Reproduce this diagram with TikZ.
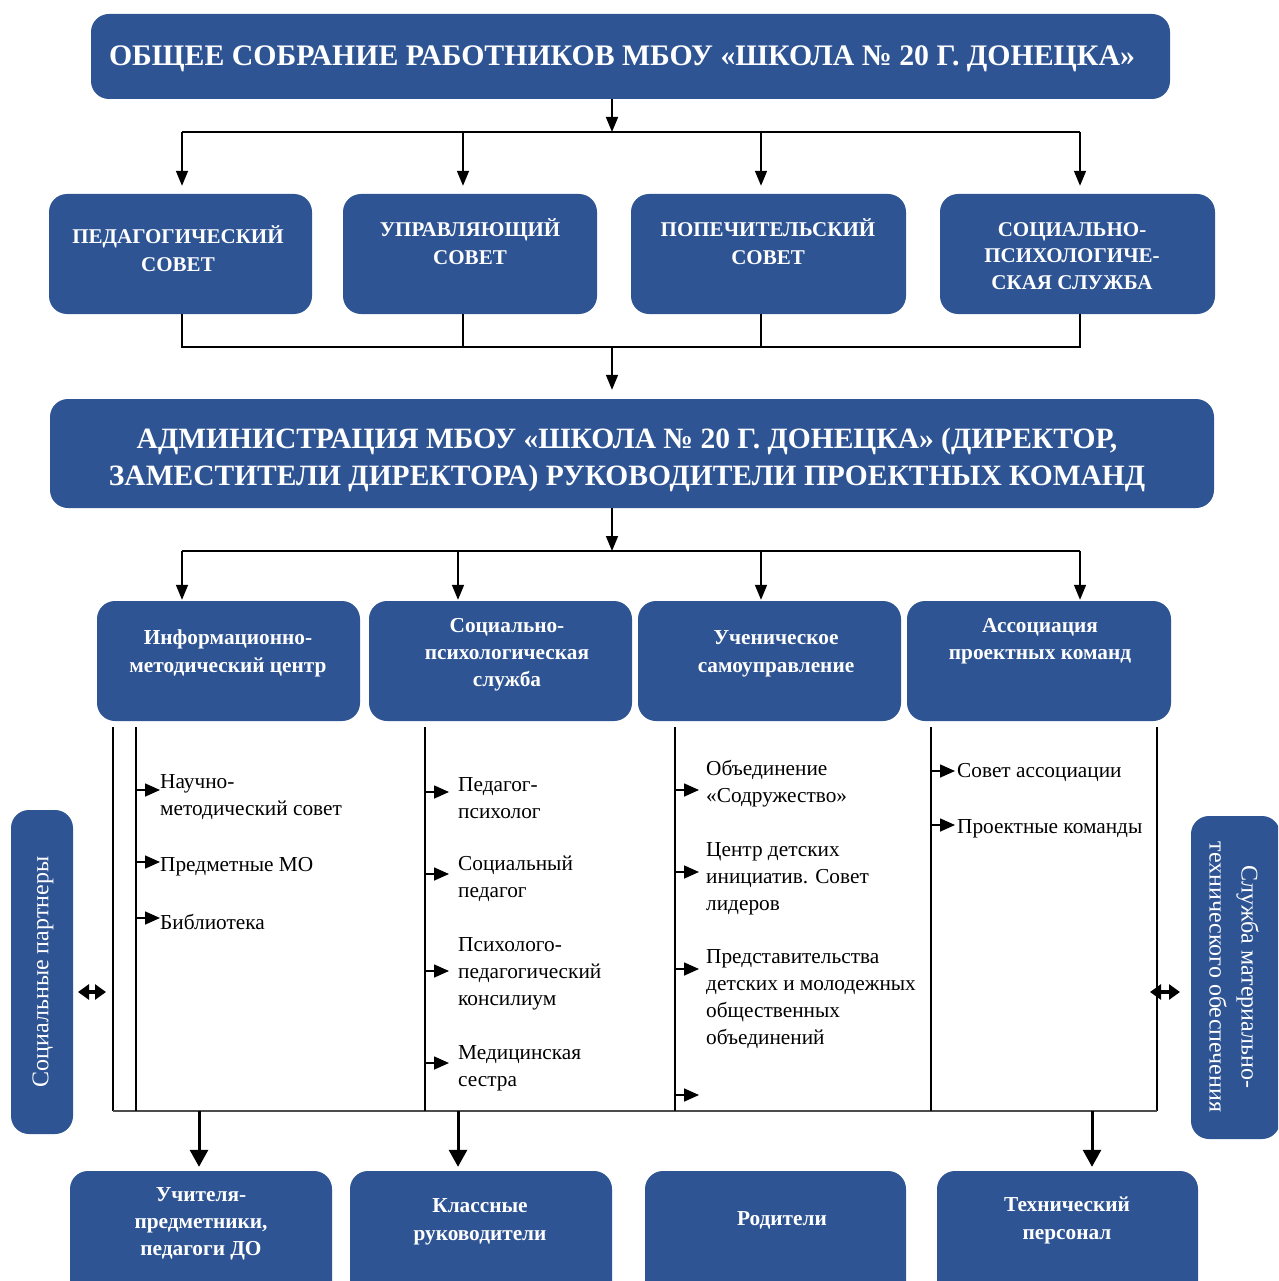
\documentclass[tikz,border=0pt]{standalone}
\usepackage{fontspec}
\setmainfont{Liberation Serif}
\usetikzlibrary{positioning}
\usetikzlibrary{arrows.meta}
\definecolor{boxblue}{RGB}{46,84,148}
\tikzset{
  bbox/.style={fill=boxblue, rounded corners=18pt, inner sep=0pt},
  btxt/.style={text=white, align=center, inner sep=0pt, font=\bfseries\fontsize{21}{28}\selectfont},
  stxt/.style={text=white, align=center, inner sep=0pt, yshift=-2.5pt, font=\bfseries\fontsize{21.3}{27}\selectfont},
  itxt/.style={anchor=west, align=left, inner sep=0pt, yshift=-2.5pt, font=\fontsize{21.3}{27}\selectfont},
  arr/.style={line width=1.6pt, -{Triangle[width=12pt,length=15pt]}},
  iarr/.style={line width=1.6pt, -{Triangle[width=13pt,length=15pt]}},
  barr/.style={line width=3pt, -{Triangle[width=18pt,length=17pt]}},
  darr/.style={line width=4.5pt, {Triangle[width=15pt,length=11pt]}-{Triangle[width=15pt,length=11pt]}},
  cline/.style={line width=1.6pt}
}
\begin{document}
\begin{tikzpicture}[x=1pt,y=-1pt]
	\useasboundingbox (0,0) rectangle (1278,1281); \clip (0,0) rectangle (1278,1281);
	\node [bbox, minimum width=1079pt, minimum height=85pt] (obsh) at (630.5,56.5) {};
	\node [btxt, font=\bfseries\fontsize{29.8}{34}\selectfont] (obshT) at (622,59) {ОБЩЕЕ СОБРАНИЕ РАБОТНИКОВ МБОУ «ШКОЛА № 20 Г. ДОНЕЦКА»};
	\node [bbox, minimum width=263pt, minimum height=120pt] (pedsov) at (180.5,254) {}; \node [btxt] (pedsovT) at (178,249) {ПЕДАГОГИЧЕСКИЙ\\СОВЕТ};
	\node [bbox, minimum width=254pt, minimum height=120pt] (upsov) at (470,254) {}; \node [btxt] (upsovT) at (470,242) {УПРАВЛЯЮЩИЙ\\СОВЕТ};
	\node [bbox, minimum width=275pt, minimum height=120pt] (popsov) at (768.5,254) {}; \node [btxt] (popsovT) at (768,242) {ПОПЕЧИТЕЛЬСКИЙ\\СОВЕТ};
	\node [bbox, minimum width=275pt, minimum height=120pt] (spsl) at (1077.5,254) {}; \node [btxt, font=\bfseries\fontsize{21}{26.5}\selectfont] (spslT) at (1072,256) {СОЦИАЛЬНО-\\ПСИХОЛОГИЧЕ-\\СКАЯ СЛУЖБА};
	\coordinate (j0) at (612,132); \coordinate (j1) at (182,132); \coordinate (j2) at (463,132); \coordinate (j3) at (761,132); \coordinate (j4) at (1080,132);
	\draw [arr] (obsh.south -| j0) -- (j0); \draw [cline] (j1)--(j4);
	\draw [arr, shorten >=8pt] (j1) -- (j1 |- pedsov.north); \draw [arr, shorten >=8pt] (j2) -- (j2 |- upsov.north);
	\draw [arr, shorten >=8pt] (j3) -- (j3 |- popsov.north); \draw [arr, shorten >=8pt] (j4) -- (j4 |- spsl.north);
	\coordinate (k0) at (612,347); \coordinate (k1) at (182,347); \coordinate (k2) at (463,347); \coordinate (k3) at (761,347); \coordinate (k4) at (1080,347);
	\draw [cline] (j1 |- pedsov.south)--(k1)--(k4)--(j4 |- spsl.south); \draw [cline] (j2 |- upsov.south)--(k2); \draw [cline] (j3 |- popsov.south)--(k3);
	\node [bbox, minimum width=1164pt, minimum height=109pt] (adm) at (632,453.5) {};
	\node [btxt, font=\bfseries\fontsize{29.5}{37}\selectfont] (admT) at (627,460) {АДМИНИСТРАЦИЯ МБОУ «ШКОЛА № 20 Г. ДОНЕЦКА» (ДИРЕКТОР,\\ЗАМЕСТИТЕЛИ ДИРЕКТОРА) РУКОВОДИТЕЛИ ПРОЕКТНЫХ КОМАНД};
	\draw [arr, shorten >=9pt] (k0) -- (k0 |- adm.north);
	\node [bbox, minimum width=263pt, minimum height=120pt] (imc) at (228.5,661) {}; \node [stxt, font=\bfseries\fontsize{21.3}{28}\selectfont] (imcT) at (228,651) {Информационно-\\методический центр};
	\node [bbox, minimum width=263pt, minimum height=120pt] (sps) at (500.5,661) {}; \node [stxt] (spsT) at (507,652) {Социально-\\психологическая\\служба};
	\node [bbox, minimum width=263pt, minimum height=120pt] (usu) at (769.5,661) {}; \node [stxt, font=\bfseries\fontsize{21.3}{28}\selectfont] (usuT) at (776,651) {Ученическое\\самоуправление};
	\node [bbox, minimum width=264pt, minimum height=120pt] (apk) at (1039,661) {}; \node [stxt] (apkT) at (1040,638.5) {Ассоциация\\проектных команд};
	\coordinate (m0) at (612,551); \coordinate (m1) at (182,551); \coordinate (m2) at (458,551); \coordinate (m3) at (761,551); \coordinate (m4) at (1080,551);
	\draw [arr] (adm.south -| m0) -- (m0); \draw [cline] (m1)--(m4);
	\draw [arr, shorten >=1pt] (m1) -- (m1 |- imc.north); \draw [arr, shorten >=1pt] (m2) -- (m2 |- sps.north);
	\draw [arr, shorten >=1pt] (m3) -- (m3 |- usu.north); \draw [arr, shorten >=1pt] (m4) -- (m4 |- apk.north);
	\coordinate (fl) at (113,727); \coordinate (fr) at (1157,727); \coordinate (fbl) at (113,1111); \coordinate (fbr) at (1157,1111);
	\draw [line width=1.3pt] (fl)--(fbl); \draw [line width=1.3pt] (fr)--(fbr); \draw [line width=2.6pt, black!70] (fbl)--(fbr);
	\coordinate (v1) at (136,727); \coordinate (v2) at (425,727); \coordinate (v3) at (675,727); \coordinate (v4) at (931,727);
	\draw [line width=2.2pt] (v1)--(v1 |- fbl); \draw [line width=2.2pt] (v2)--(v2 |- fbl); \draw [line width=2.2pt] (v3)--(v3 |- fbl); \draw [line width=2.2pt] (v4)--(v4 |- fbl);
	\node [itxt] (nms) at (160,794.5) {Научно-\\методический совет}; \draw [iarr] (136,790) -- ++(24,0);
	\node [itxt] (pmo) at (160,864) {Предметные МО}; \draw [iarr] (136,862) -- ++(24,0);
	\node [itxt] (bib) at (160,919) {Библиотека}; \draw [iarr] (136,918) -- ++(24,0);
	\node [itxt] (pp) at (458,795.5) {Педагог-\\психолог}; \draw [iarr] (425,792) -- ++(24,0);
	\node [itxt] (sped) at (458,876.5) {Социальный\\педагог}; \draw [iarr] (425,874) -- ++(24,0);
	\node [itxt] (ppk) at (458,971) {Психолого-\\педагогический\\консилиум}; \draw [iarr] (425,971) -- ++(24,0);
	\node [itxt] (med) at (458,1066) {Медицинская\\сестра}; \draw [iarr] (425,1063) -- ++(24,0);
	\node [itxt] (sodr) at (706,781.5) {Объединение\\«Содружество»}; \draw [iarr] (675,790) -- ++(24,0);
	\node [itxt] (cdi) at (706,876.5) {Центр детских\\инициатив. Совет\\лидеров}; \draw [iarr] (675,872) -- ++(24,0);
	\node [itxt] (pred) at (706,997) {Представительства\\детских и молодежных\\общественных\\объединений}; \draw [iarr] (675,969) -- ++(24,0);
	\draw [iarr] (675,1095) -- ++(24,0);
	\node [itxt] (sass) at (957,770) {Совет ассоциации}; \draw [iarr] (931,771) -- ++(24,0);
	\node [itxt] (pkom) at (957,826) {Проектные команды}; \draw [iarr] (931,825) -- ++(24,0);
	\node [bbox, minimum width=62pt, minimum height=324pt] (socp) at (42,972) {};
	\node [btxt, font=\fontsize{24}{30}\selectfont, rotate=90] (socpT) at (43,972) {Социальные партнеры};
	\node [bbox, minimum width=89pt, minimum height=323pt] (smto) at (1235.5,977.5) {};
	\node [btxt, font=\fontsize{24}{32}\selectfont, rotate=-90] (smtoT) at (1234,977) {Служба материально-\\технического обеспечения};
	\coordinate (la) at (78,992); \coordinate (lb) at (106,992); \coordinate (ra) at (1150,992); \coordinate (rb) at (1180,992);
	\draw [darr] (la)--(lb); \draw [darr] (ra)--(rb);
	\node [bbox, minimum width=262pt, minimum height=130pt] (upr) at (201,1236) {}; \node [stxt] (uprT) at (201,1221) {Учителя-\\предметники,\\педагоги ДО};
	\node [bbox, minimum width=262pt, minimum height=130pt] (kruk) at (481,1236) {}; \node [stxt, font=\bfseries\fontsize{21.3}{28}\selectfont] (krukT) at (480,1219) {Классные\\руководители};
	\node [bbox, minimum width=261pt, minimum height=130pt] (rod) at (775.5,1236) {}; \node [stxt] (rodT) at (782,1218) {Родители};
	\node [bbox, minimum width=261pt, minimum height=130pt] (tper) at (1067.5,1236) {}; \node [stxt, font=\bfseries\fontsize{21.3}{28}\selectfont] (tperT) at (1067,1217.5) {Технический\\персонал};
	\coordinate (b1) at (199,1111); \coordinate (b2) at (458,1111); \coordinate (b4) at (1092,1111);
	\draw [barr, shorten >=4pt] (b1) -- (b1 |- upr.north); \draw [barr, shorten >=4pt] (b2) -- (b2 |- kruk.north); \draw [barr, shorten >=4pt] (b4) -- (b4 |- tper.north);
\end{tikzpicture}
\end{document}
